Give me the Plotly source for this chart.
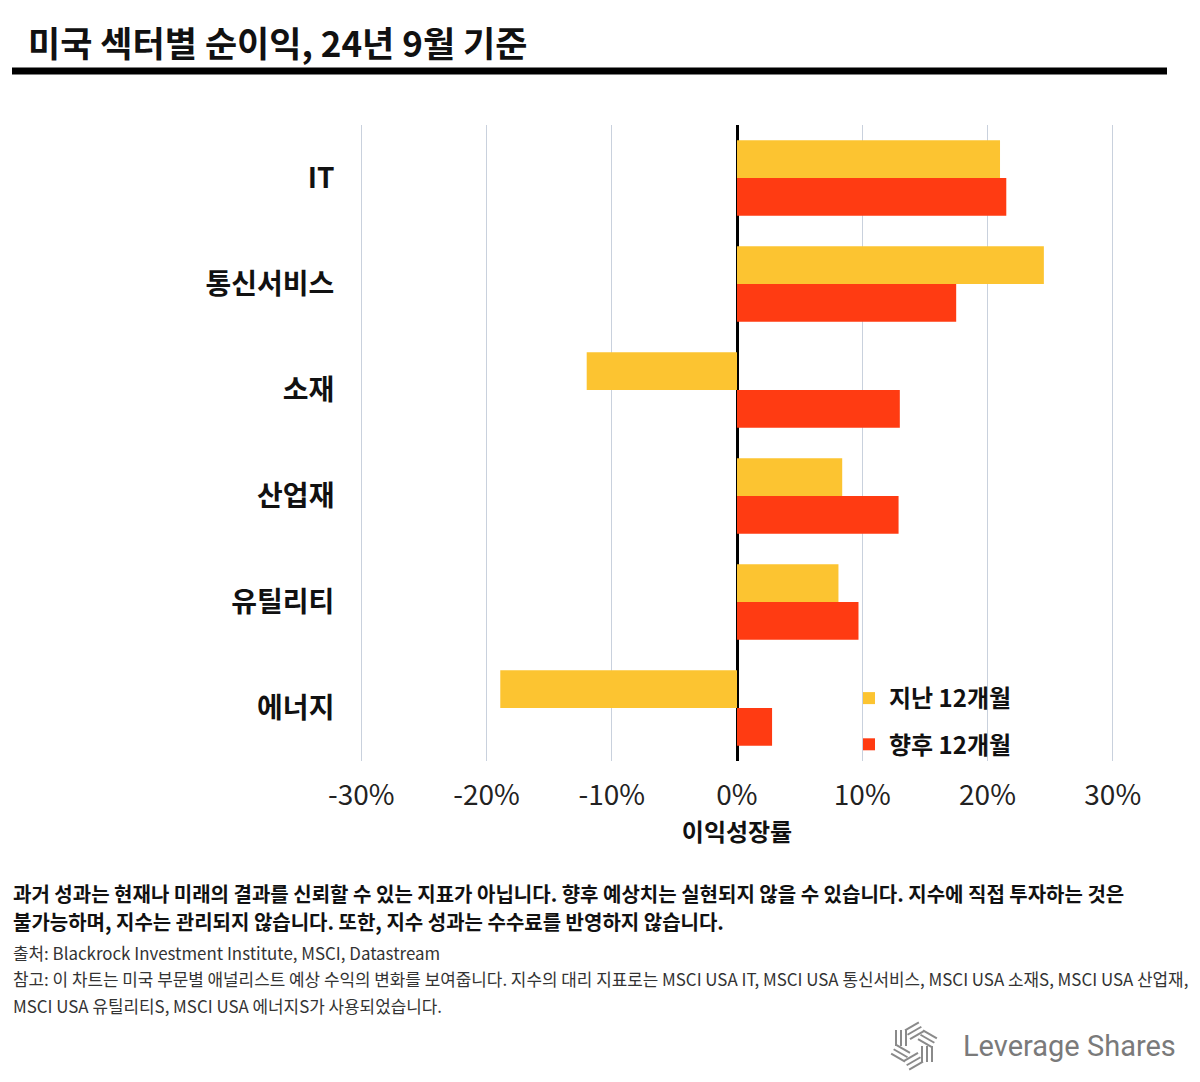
import math
import plotly.graph_objects as go

categories = ["IT", "통신서비스", "소재", "산업재", "유틸리티", "에너지"]
past_12m = [21.0, 24.5, -12.0, 8.4, 8.1, -18.9]
next_12m = [21.5, 17.5, 13.0, 12.9, 9.7, 2.8]
series_names = ["지난 12개월", "향후 12개월"]
tick_vals = [-30, -20, -10, 0, 10, 20, 30]
tick_text = ["-30%", "-20%", "-10%", "0%", "10%", "20%", "30%"]

title = "미국 섹터별 순이익, 24년 9월 기준"
x_title = "이익성장률"
disclaimer = ["과거 성과는 현재나 미래의 결과를 신뢰할 수 있는 지표가 아닙니다. 향후 예상치는 실현되지 않을 수 있습니다. 지수에 직접 투자하는 것은",
              "불가능하며, 지수는 관리되지 않습니다. 또한, 지수 성과는 수수료를 반영하지 않습니다."]
notes = ["출처: Blackrock Investment Institute, MSCI, Datastream",
         "참고: 이 차트는 미국 부문별 애널리스트 예상 수익의 변화를 보여줍니다. 지수의 대리 지표로는 MSCI USA IT, MSCI USA 통신서비스, MSCI USA 소재S, MSCI USA 산업재,",
         "MSCI USA 유틸리티S, MSCI USA 에너지S가 사용되었습니다."]

FONT = "Noto Sans CJK KR"
OFF = 8  # page body margin
W, H = 1200 - OFF, 1082 - OFF
L, R, T, B = 360 - OFF, 1114 - OFF, 125 - OFF, 761 - OFF


def px(x):
    return (x - OFF - L) / (R - L)


def py(y):
    return (B - (y - OFF)) / (B - T)


fig = go.Figure()
fig.add_trace(go.Bar(y=categories, x=past_12m, orientation="h", name=f"<b>{series_names[0]}</b>",
                     marker=dict(color="#FCC431", line=dict(width=0)), legendgroup="a"))
fig.add_trace(go.Bar(y=categories, x=next_12m, orientation="h", name=f"<b>{series_names[1]}</b>",
                     marker=dict(color="#FF3B12", line=dict(width=0)), legendgroup="b"))

fig.update_layout(
    width=W, height=H,
    margin=dict(l=L, r=W - R, t=T, b=H - B),
    paper_bgcolor="white", plot_bgcolor="white",
    barmode="group", bargap=0.29, bargroupgap=0,
    font=dict(family=FONT, color="#111"),
    legend=dict(x=px(849), y=py(676), xanchor="left", yanchor="top",
                font=dict(size=24, color="#111", family=FONT),
                traceorder="grouped", tracegroupgap=12, bgcolor="rgba(0,0,0,0)",
                itemwidth=30),
    xaxis=dict(range=[-30.1, 30.1], tickvals=tick_vals, ticktext=tick_text,
               showgrid=True, gridcolor="#c9d1dd", gridwidth=1,
               zeroline=True, zerolinecolor="#000", zerolinewidth=3,
               ticks="outside", ticklen=9, tickcolor="rgba(0,0,0,0)",
               tickfont=dict(size=28, color="#222", family=FONT),
               title=dict(text=f"<b>{x_title}</b>", font=dict(size=24, color="#111", family=FONT), standoff=7),
               showline=False, fixedrange=True),
    yaxis=dict(autorange="reversed", showgrid=False, zeroline=False, showline=False,
               ticks="outside", ticklen=19, tickcolor="rgba(0,0,0,0)",
               tickvals=categories, ticktext=[f"<b>{c}</b>" for c in categories],
               tickfont=dict(size=28, color="#111", family=FONT), fixedrange=True),
)

annos = []
annos.append(dict(text=f"<b>{title}</b>", x=px(26), y=py(42), xref="paper", yref="paper",
                  xanchor="left", yanchor="middle", showarrow=False,
                  font=dict(size=35, color="#111", family=FONT)))
for i, line in enumerate(disclaimer):
    annos.append(dict(text=f"<b>{line}</b>", x=px(11), y=py(893 + 29 * i), xref="paper", yref="paper",
                      xanchor="left", yanchor="middle", showarrow=False,
                      font=dict(size=20, color="#111", family=FONT)))
for i, line in enumerate(notes):
    annos.append(dict(text=line, x=px(11), y=py(952 + 26.5 * i), xref="paper", yref="paper",
                      xanchor="left", yanchor="middle", showarrow=False,
                      font=dict(size=16.9, color="#333", family=FONT)))
annos.append(dict(text="Leverage Shares", x=px(961), y=py(1046), xref="paper", yref="paper",
                  xanchor="left", yanchor="middle", showarrow=False,
                  font=dict(size=29, color="#7a7a7a", family="Roboto")))
fig.update_layout(annotations=annos)

shapes = [dict(type="line", xref="paper", yref="paper", x0=px(12), x1=px(1167), y0=py(71), y1=py(71),
               line=dict(color="#000", width=7))]
# simple logo glyph
cx, cy = 914, 1046
for k in range(6):
    ang = math.radians(60 * k)
    for j in range(3):
        r0 = 8 + j * 5
        x0 = cx + r0 * math.cos(ang)
        y0 = cy + r0 * math.sin(ang)
        dx = 16 * math.cos(ang + math.pi / 2)
        dy = 16 * math.sin(ang + math.pi / 2)
        shapes.append(dict(type="line", xref="paper", yref="paper",
                           x0=px(x0), y0=py(y0), x1=px(x0 + dx), y1=py(y0 + dy),
                           line=dict(color="#8a8a8a", width=2)))
fig.update_layout(shapes=shapes)

fig.write_html("out.html")
